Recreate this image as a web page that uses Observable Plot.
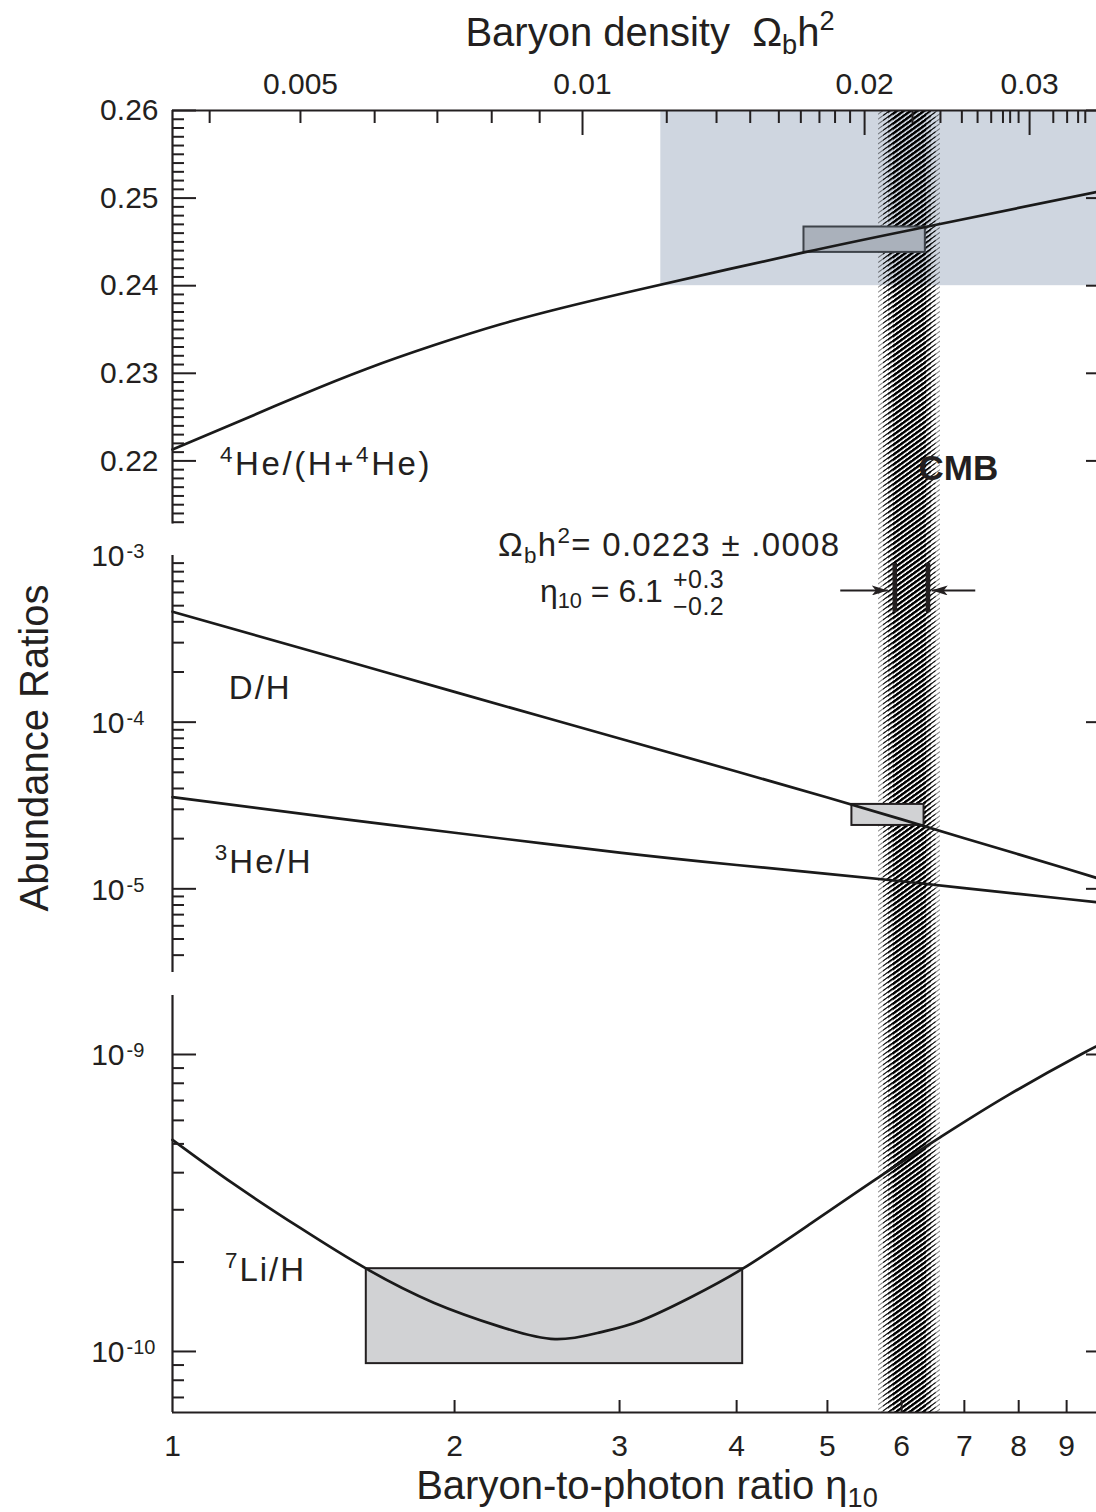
<!DOCTYPE html>
<html>
<head>
<meta charset="utf-8">
<title>Big-bang nucleosynthesis abundances</title>
<script src="https://cdn.jsdelivr.net/npm/d3@7"></script>
<script src="https://cdn.jsdelivr.net/npm/@observablehq/plot@0.6"></script>
<style>
  html, body { margin: 0; padding: 0; background: #fff; overflow: hidden; }
  #fig { position: relative; width: 1096px; height: 1512px; overflow: hidden; background: #fff; }
</style>
</head>
<body>
<svg id="defs" width="0" height="0" style="position:absolute"><defs></defs></svg>
<div id="fig"></div>
<script>
// ---------------- values ----------------
const ETA_PER_OMEGA = 273.9;            // eta10 = 273.9 * Omega_b h^2

// 4He mass fraction
const heEta = [1, 1.16, 1.37, 1.61, 1.9, 2.24, 2.59, 3.16, 4.72, 6.36, 10];
const heY   = [0.2213, 0.2242, 0.2275, 0.2305, 0.2332, 0.2356, 0.2374, 0.2396, 0.2438, 0.2467, 0.2510];

// D/H and 3He/H
const lightEta = [1, 1.5, 2, 3, 4, 5, 6, 7, 8, 9, 10];
const dH   = [4.6e-4, 2.41e-4, 1.52e-4, 7.98e-5, 5.06e-5, 3.53e-5, 2.61e-5, 2.01e-5, 1.61e-5, 1.32e-5, 1.10e-5];
const he3H = [3.55e-5, 2.65e-5, 2.17e-5, 1.65e-5, 1.39e-5, 1.23e-5, 1.11e-5, 1.01e-5, 9.33e-6, 8.69e-6, 8.15e-6];

// 7Li/H
const liEta = [1, 1.16, 1.37, 1.61, 1.9, 2.24, 2.56, 2.86, 3.16, 3.57, 4.06, 4.76, 5.67, 6.6, 7.78, 9.35, 10];
const liH   = [5.16e-10, 3.68e-10, 2.60e-10, 1.90e-10, 1.46e-10, 1.21e-10, 1.10e-10, 1.16e-10, 1.27e-10,
               1.52e-10, 1.90e-10, 2.65e-10, 3.86e-10, 5.27e-10, 7.27e-10, 1.006e-9, 1.118e-9];

// observed abundances
const heRangeEta = [3.32, 10],   heRangeY = [0.24, 0.26];
const heObsEta   = [4.72, 6.36], heObsY   = [0.2438, 0.2467];
const dObsEta    = [5.31, 6.34], dObsH    = [2.40e-5, 3.21e-5];
const liObsEta   = [1.61, 4.06], liObsH   = [9.1e-11, 1.9e-10];

// CMB determination
const cmbOmega = 0.0223, cmbOmegaErr = 0.0008;
const cmbEta = 6.1, cmbPlus = 0.3, cmbMinus = 0.2;
const cmbBandLo = [5.67, 5.74, 5.81, 5.88];   // nested hatch bands, outermost first
const cmbBandHi = [6.60, 6.53, 6.46, 6.38];
const cmbArrowFrom = [5.16, 7.19], cmbArrowTo = [5.80, 6.46];
const cmbMarkerH = [4.55e-4, 8.96e-4], cmbArrowH = 6.17e-4;

// axes
const heDomain = [0.21, 0.26],            heAxis = [0.2128, 0.26];
const lightDomain = [2.63e-6, 1.1015e-3], lightAxis = [3.15e-6, 1e-3];
const liDomain = [6.23e-11, 1.7074e-9],   liAxis = [6.23e-11, 1.58e-9];

const omegaLabels = [0.005, 0.01, 0.02, 0.03];
const omegaLong   = [0.01, 0.02, 0.03];
const omegaShort  = [0.004, 0.005, 0.006, 0.007, 0.008, 0.009,
  0.0123, 0.0139, 0.0151, 0.0162, 0.0171, 0.0179, 0.0186, 0.0193,
  0.0225, 0.0241, 0.0254, 0.0264, 0.0273, 0.0281, 0.0286, 0.0292,
  0.0318, 0.0329, 0.0338, 0.0344];
const etaLabels = [1, 2, 3, 4, 5, 6, 7, 8, 9];
const etaTicks  = [2, 3, 4, 5, 6, 7, 8, 9];
const heMajor = [0.22, 0.23, 0.24, 0.25, 0.26];
const heMinor = d3.range(213, 260).filter(v => v % 10).map(v => v / 1000);
const lightLabels = [1e-3, 1e-4, 1e-5];
const lightMajor  = [1e-4, 1e-5];
const lightMinor  = [1e-6, 1e-5, 1e-4].flatMap(p => d3.range(2, 10).map(k => k * p)).filter(v => v > 3.15e-6);
const liLabels = [1e-9, 1e-10];
const liMinor  = [1e-11, 1e-10].flatMap(p => d3.range(2, 10).map(k => k * p)).filter(v => v > 6.5e-11);

// ---------------- styling ----------------
const INK = "#231f20";
const FONT = '"Liberation Sans", Arial, Helvetica, sans-serif';
const W = 1120, ML = 172, MR = 11;      // frame spans eta 1..10; right axis sits just past the view
const HATCH_WEIGHT = [0.5, 0.95, 1.5, 2.1];
const HATCH_PERIOD = 4;
const PANEL_TOPS = [0, 548, 985];
const toEta = o => o * ETA_PER_OMEGA;

// hatch patterns (one set per panel, phased so the stripes run on across panels) and arrowhead
const defs = d3.select("#defs defs");
PANEL_TOPS.forEach((top, p) => HATCH_WEIGHT.forEach((w, i) => {
  defs.append("pattern").attr("id", `hatch${p}-${i}`).attr("patternUnits", "userSpaceOnUse")
    .attr("width", 10).attr("height", HATCH_PERIOD)
    .attr("patternTransform", `translate(0,${-top}) rotate(-36)`)
    .append("rect").attr("width", 10).attr("height", w).attr("fill", "#000");
}));
defs.append("marker").attr("id", "arrowhead").attr("viewBox", "0 0 16 10")
  .attr("refX", 16).attr("refY", 5).attr("markerWidth", 16).attr("markerHeight", 10)
  .attr("markerUnits", "userSpaceOnUse").attr("orient", "auto")
  .append("path").attr("d", "M0,0L16,5L0,10L4,5Z").attr("fill", INK);

const fig = document.getElementById("fig");

function panel(top, height, marginTop, marginBottom, y, marks) {
  const svg = Plot.plot({
    width: W, height, marginTop, marginBottom, marginLeft: ML, marginRight: MR,
    x: {type: "log", domain: [1, 10], axis: null},
    y: {...y, axis: null},
    style: {position: "absolute", left: "0px", top: `${top}px`, maxWidth: "none",
            background: "transparent", overflow: "visible", fontFamily: FONT, color: INK},
    marks
  });
  fig.append(svg);
  return svg;
}

const hatch = (p, y1, y2) => cmbBandLo.map((lo, i) =>
  Plot.rect([i], {x1: lo, x2: cmbBandHi[i], y1, y2, fill: `url(#hatch${p}-${i})`}));
const box = (ex, ey, fill, stroke) =>
  Plot.rect([0], {x1: ex[0], x2: ex[1], y1: ey[0], y2: ey[1], fill, stroke, strokeWidth: 2});
const curve = (xs, ys) =>
  Plot.line(xs.map((x, i) => [x, ys[i]]), {x: d => d[0], y: d => d[1], curve: "natural",
    stroke: "#1a1a1a", strokeWidth: 2.7});
const sideAxes = (ext) => [
  Plot.ruleX([1], {y1: ext[0], y2: ext[1], stroke: INK, strokeWidth: 2.2}),
  Plot.ruleX([10], {y1: ext[0], y2: ext[1], stroke: INK, strokeWidth: 2.2})
];
const yTicks = (values, size) => ["left", "right"].map(anchor =>
  Plot.axisY({anchor, ticks: values, tickSize: -size, fill: "none", stroke: INK, strokeWidth: 2}));
const xTicks = (anchor, values, size) =>
  Plot.axisX({anchor, ticks: values, tickSize: -size, fill: "none", stroke: INK, strokeWidth: 2});
const pow10Labels = (values) => [
  Plot.text(values, {y: d => d, frameAnchor: "left", dx: -48, dy: 11, textAnchor: "end",
    lineAnchor: "bottom", text: () => "10", fontSize: 30, fill: INK}),
  Plot.text(values, {y: d => d, frameAnchor: "left", dx: -46, dy: 3, textAnchor: "start",
    lineAnchor: "bottom", text: d => String(Math.round(Math.log10(d))), fontSize: 20, fill: INK})
];

// text with sub/superscripts
function rich(svg, x, y, parts, {size = 31, anchor = "start", weight = null, transform = null, spacing = 0} = {}) {
  const t = d3.select(svg).append("text")
    .attr("x", x).attr("y", y).attr("font-size", size).attr("text-anchor", anchor)
    .attr("fill", INK).attr("font-family", FONT).style("white-space", "pre");
  if (spacing) t.attr("letter-spacing", spacing);
  if (weight) t.attr("font-weight", weight);
  if (transform) t.attr("transform", transform);
  let shift = 0;
  for (const part of parts) {
    const [s, kind] = Array.isArray(part) ? part : [part, null];
    const target = kind === "sup" ? -0.4 * size : kind === "sub" ? 0.2 * size : 0;
    const ts = t.append("tspan").attr("dy", target - shift).text(s);
    if (kind) ts.attr("font-size", 0.68 * size);
    shift = target;
  }
  return t.node();
}

// ---------------- panel 1: 4He ----------------
const p1 = panel(PANEL_TOPS[0], 548, 110, 0, {domain: heDomain}, [
  Plot.rect([0], {x1: heRangeEta[0], x2: heRangeEta[1], y1: heRangeY[0], y2: heRangeY[1], fill: "#cfd6e0"}),
  ...hatch(0, heDomain[0], heDomain[1]),
  box(heObsEta, heObsY, "#aab1bb", "#3e434a"),
  curve(heEta, heY),
  Plot.ruleY([heAxis[1]], {stroke: INK, strokeWidth: 2.2}),
  ...sideAxes(heAxis),
  ...yTicks(heMajor, 24),
  ...yTicks(heMinor, 12),
  xTicks("top", omegaLong.map(toEta), 24),
  xTicks("top", omegaShort.map(toEta), 12),
  Plot.text(omegaLabels, {x: toEta, frameAnchor: "top", dy: -17, lineAnchor: "bottom",
    text: d => String(d), fontSize: 30, fill: INK}),
  Plot.text(heMajor, {y: d => d, frameAnchor: "left", dx: -14, textAnchor: "end",
    text: d3.format(".2f"), fontSize: 30, fill: INK}),
  Plot.text(["CMB"], {x: 6.254, y: 0.2178, textAnchor: "start", lineAnchor: "bottom",
    fontWeight: "bold", fontSize: 35, fill: INK})
]);
{
  const sx = p1.scale("x"), sy = p1.scale("y");
  rich(p1, 650, 46, ["Baryon density  Ω", ["b", "sub"], "h", ["2", "sup"]], {size: 40, anchor: "middle"});
  rich(p1, sx.apply(1.125), sy.apply(0.2183), [["4", "sup"], "He/(H+", ["4", "sup"], "He)"], {size: 33, spacing: 2.6});
}

// ---------------- panel 2: D and 3He ----------------
const p2 = panel(PANEL_TOPS[1], 437, 0, 0, {type: "log", domain: lightDomain}, [
  ...hatch(1, lightDomain[0], lightDomain[1]),
  box(dObsEta, dObsH, "#d1d2d4", INK),
  curve(lightEta, dH),
  curve(lightEta, he3H),
  ...sideAxes(lightAxis),
  ...yTicks(lightMajor, 24),
  ...yTicks(lightMinor, 12),
  ...pow10Labels(lightLabels),
  Plot.ruleX([cmbEta - cmbMinus, cmbEta + cmbPlus], {y1: cmbMarkerH[0], y2: cmbMarkerH[1],
    stroke: INK, strokeWidth: 4.5}),
  Plot.link([0, 1], {x1: i => cmbArrowFrom[i], x2: i => cmbArrowTo[i], y1: cmbArrowH, y2: cmbArrowH,
    stroke: INK, strokeWidth: 2, className: "cmb-arrow"})
]);
{
  const sx = p2.scale("x"), sy = p2.scale("y");
  d3.select(p2).selectAll(".cmb-arrow path, g[aria-label=link] path").attr("marker-end", "url(#arrowhead)");
  rich(p2, sx.apply(2.228), sy.apply(9.86e-4),
    ["Ω", ["b", "sub"], "h", ["2", "sup"], `= ${cmbOmega} ± ${String(cmbOmegaErr).replace(/^0/, "")}`],
    {size: 33, spacing: 1.3});
  const x0 = sx.apply(2.47), y0 = sy.apply(5.22e-4);
  const eta = rich(p2, x0, y0, ["η", ["10", "sub"], ` = ${cmbEta}`], {size: 32});
  const xe = x0 + eta.getComputedTextLength() + 10;
  rich(p2, xe, y0 - 14, [`+${cmbPlus}`], {size: 25, spacing: 0.5});
  rich(p2, xe, y0 + 13, [`\u2212${cmbMinus}`], {size: 25, spacing: 0.5});
  rich(p2, sx.apply(1.15), sy.apply(1.37e-4), ["D/H"], {size: 33, spacing: 2});
  rich(p2, sx.apply(1.111), sy.apply(1.24e-5), [["3", "sup"], "He/H"], {size: 33, spacing: 2});
  rich(p2, 48, 200, ["Abundance Ratios"], {size: 40, anchor: "middle", transform: "rotate(-90 48 200)"});
}

// ---------------- panel 3: 7Li ----------------
const p3 = panel(PANEL_TOPS[2], 527, 0, 100, {type: "log", domain: liDomain}, [
  ...hatch(2, liDomain[0], liDomain[1]),
  box(liObsEta, liObsH, "#d1d2d4", INK),
  curve(liEta, liH),
  Plot.ruleY([liAxis[0]], {stroke: INK, strokeWidth: 2.2}),
  ...sideAxes(liAxis),
  ...yTicks(liLabels, 24),
  ...yTicks(liMinor, 12),
  xTicks("bottom", etaTicks, 12),
  Plot.text(etaLabels, {x: d => d, frameAnchor: "bottom", dy: 22, lineAnchor: "top",
    text: d => String(d), fontSize: 30, fill: INK}),
  ...pow10Labels(liLabels)
]);
{
  const sx = p3.scale("x"), sy = p3.scale("y");
  rich(p3, sx.apply(1.139), sy.apply(1.72e-10), [["7", "sup"], "Li/H"], {size: 33, spacing: 2});
  rich(p3, 647, 514, ["Baryon-to-photon ratio η", ["10", "sub"]], {size: 40, anchor: "middle"});
}
</script>
</body>
</html>
